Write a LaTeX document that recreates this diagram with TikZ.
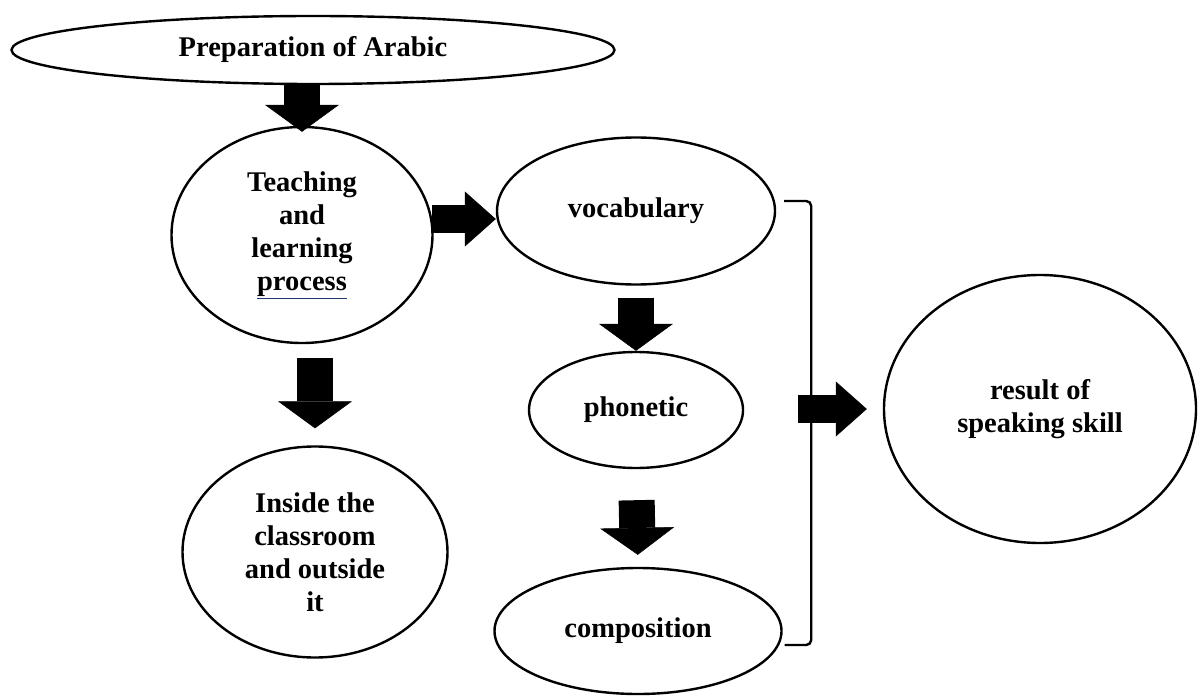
\documentclass[tikz,border=0pt]{standalone}
\usepackage{fontspec}
\setmainfont{Liberation Serif}
\usetikzlibrary{shapes.geometric,arrows.meta}
\definecolor{linkblue}{RGB}{31,56,110}

\begin{document}
\begin{tikzpicture}[x=1pt,y=1pt,
        bubble/.style={draw,ellipse,line width=2.4pt,inner sep=0pt,align=center,font=\bfseries\fontsize{28.5}{33}\selectfont},
        downarrow/.style={line width=36pt,-{Triangle[length=27pt,width=74pt,line width=0.5pt]}},
        sidearrow/.style={line width=28pt,-{Triangle[length=31pt,width=55pt,line width=0.5pt]}}]
        \useasboundingbox (0,0) rectangle (1198,697);
        \node[bubble,minimum width=603pt,minimum height=68pt](prep)at(313,647){Preparation of Arabic};
        \node[bubble,minimum width=261pt,minimum height=216pt](teach)at(302,462){Teaching\\and\\learning\\{\color{linkblue}\underline{\color{black}process}}};
        \node[bubble,minimum width=265pt,minimum height=211pt](inside)at(315,145){Inside the\\classroom\\and outside\\it};
        \node[bubble,minimum width=278pt,minimum height=147pt](vocab)at(636,486){vocabulary};
        \node[bubble,minimum width=214pt,minimum height=116pt](phon)at(636,287){phonetic};
        \node[bubble,minimum width=287pt,minimum height=126pt](comp)at(638,66){composition};
        \node[bubble,minimum width=312pt,minimum height=268pt](result)at(1040,288){result of\\speaking skill};
        \coordinate(brmid)at(798,288);

        \draw[downarrow,shorten >=-6pt](prep.south -| teach.north)--(teach.north);
        \draw[sidearrow](teach.7)--(teach.7 -| vocab.west);
        \draw[downarrow,shorten <=14pt,shorten >=17pt](teach.south -| inside.north)--(inside.north);
        \draw[downarrow,shorten <=12pt](vocab.south)--(phon.north);
        \draw[downarrow,shorten <=31pt,shorten >=12pt](phon.south)--(comp.north);
        \draw[line width=2.4pt,rounded corners=5pt]([shift={(8pt,10pt)}]vocab.east)-- ++(27,0)|-([shift={(2pt,-14pt)}]comp.east);
        \draw[sidearrow,shorten >=16pt](brmid)--(result.west);

    \end{tikzpicture}
\end{document}
